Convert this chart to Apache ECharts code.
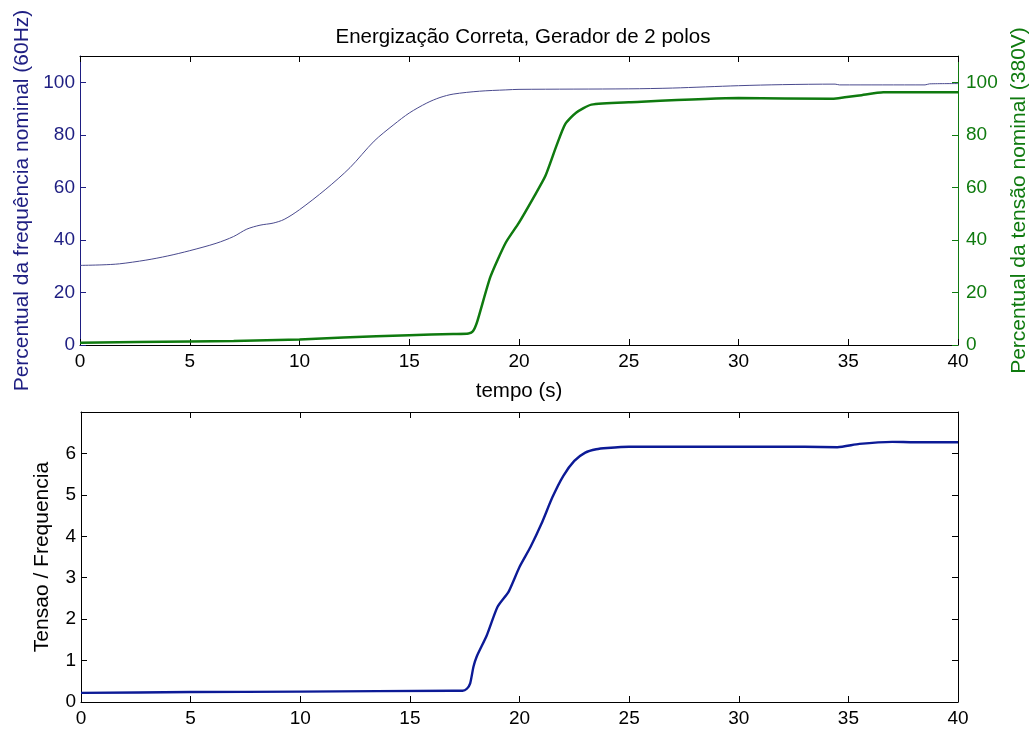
<!DOCTYPE html>
<html>
<head>
<meta charset="utf-8">
<script src="https://cdn.jsdelivr.net/npm/echarts@6/dist/echarts.min.js"></script>
<style>
  html, body { margin: 0; padding: 0; background: #fff; }
  #chart { width: 1030px; height: 729px; }
</style>
</head>
<body>
<div id="chart"></div>
<script>
// frequencia (% de 60Hz)
var freqT = [0, 1, 1.8, 3, 4, 5, 6.2, 7, 7.6, 8.2, 8.8, 9.3, 10, 11.2, 12.3, 13.4, 14.3, 15, 15.8, 16.4, 17, 18.2, 19.4, 20, 25, 27, 30, 32, 34.4, 34.6, 38.5, 38.7, 40];
var freqV = [30.3, 30.5, 30.9, 32.3, 33.9, 35.9, 38.7, 41.3, 44.1, 45.6, 46.4, 47.8, 51.5, 59.3, 67.5, 77.6, 83.9, 88.3, 92.1, 94.2, 95.5, 96.6, 97.1, 97.3, 97.5, 97.8, 98.7, 99.1, 99.3, 99.0, 99.0, 99.4, 99.5];

// tensao (% de 380V)
var tensT = [0, 5, 7, 10, 12, 15, 17, 17.7, 17.9, 18.1, 18.7, 19.4, 20, 20.7, 21.2, 21.7, 22.1, 22.6, 23.3, 25, 30, 34.2, 35.5, 36.6, 40];
var tensV = [0.9, 1.3, 1.5, 2.1, 2.9, 3.7, 4.2, 4.4, 5.2, 9, 26, 39, 46.6, 56.7, 64.3, 75.7, 84, 88.4, 91.5, 92.4, 94, 93.7, 95, 96.2, 96.2];

// razao tensao / frequencia
var ratioT = [0, 5, 10, 17, 17.4, 17.6, 17.75, 17.9, 18.05, 18.5, 19, 19.5, 20, 20.5, 21, 21.5, 22, 22.5, 23, 23.5, 24, 25, 30, 33, 34.5, 35.5, 37, 38, 40];
var ratioV = [0.22, 0.24, 0.25, 0.27, 0.27, 0.32, 0.45, 0.85, 1.1, 1.6, 2.3, 2.66, 3.26, 3.74, 4.3, 4.94, 5.46, 5.82, 6.02, 6.1, 6.13, 6.16, 6.16, 6.16, 6.15, 6.23, 6.28, 6.27, 6.27];

function pairs(t, v) {
    return t.map(function (x, i) { return [x, v[i]] })
}

var navy = '#1e1e82';
var green = '#0f7a0f';
var font = 'Liberation Sans, Arial, sans-serif';

function xAx(grid, pos, labels, name) {
    return {
        type: 'value', gridIndex: grid, position: pos, min: 0, max: 40, interval: 5,
        name: name || '', nameLocation: 'middle', nameGap: 36,
        nameTextStyle: { color: '#000', fontSize: 20.5, fontFamily: font },
        axisLine: { show: true, onZero: false, lineStyle: { color: '#000', width: 1 } },
        axisTick: { show: true, inside: true, length: 6, lineStyle: { color: '#000' } },
        axisLabel: { show: labels, color: '#000', fontSize: 19, fontFamily: font, margin: 7 },
        splitLine: { show: false }
    }
}

function yAx(grid, pos, max, interval, color, labels, name, gap) {
    return {
        type: 'value', gridIndex: grid, position: pos, min: 0, max: max, interval: interval,
        name: name || '', nameLocation: 'middle', nameGap: gap || 40,
        nameTextStyle: { color: color, fontSize: 21, fontFamily: font },
        axisLine: { show: true, onZero: false, lineStyle: { color: color, width: 1 } },
        axisTick: { show: true, inside: true, length: 6, lineStyle: { color: color } },
        axisLabel: {
            show: labels, color: color, fontSize: 19, fontFamily: font,
            margin: pos == 'left' ? 5 : 8,
            showMaxLabel: false
        },
        splitLine: { show: false }
    }
}

var chart = echarts.init(document.getElementById('chart'));
var option = {
    animation: false,
    backgroundColor: '#fff',
    title: {
        text: 'Energização Correta, Gerador de 2 polos',
        left: 518, top: 22, textAlign: 'center',
        textStyle: { fontSize: 20.5, fontWeight: 'normal', color: '#000', fontFamily: font }
    },
    grid: [
        { left: 80, right: 72, top: 56, height: 289, outerBoundsMode: 'none' },
        { left: 81, right: 72, top: 412, height: 290, outerBoundsMode: 'none' }
    ],
    xAxis: [
        xAx(0, 'bottom', true, 'tempo (s)'),
        xAx(0, 'top', false),
        xAx(1, 'bottom', true),
        xAx(1, 'top', false)
    ],
    yAxis: [
        yAx(0, 'left', 110, 20, navy, true, 'Percentual da frequência nominal (60Hz)', 47),
        yAx(0, 'right', 110, 20, green, true, 'Percentual da tensão nominal (380V)', 50),
        yAx(1, 'left', 7, 1, '#000', true, 'Tensao / Frequencia', 28),
        yAx(1, 'right', 7, 1, '#000', false)
    ],
    series: [
        {
            type: 'line', xAxisIndex: 0, yAxisIndex: 0, data: pairs(freqT, freqV),
            showSymbol: false, smooth: 0.3,
            lineStyle: { color: '#4a4a8e', width: 1 }
        },
        {
            type: 'line', xAxisIndex: 0, yAxisIndex: 1, data: pairs(tensT, tensV),
            showSymbol: false, smooth: 0.2,
            lineStyle: { color: green, width: 2.5 }
        },
        {
            type: 'line', xAxisIndex: 2, yAxisIndex: 2, data: pairs(ratioT, ratioV),
            showSymbol: false, smooth: 0.2,
            lineStyle: { color: '#0c1a96', width: 2.4 }
        }
    ]
};
chart.setOption(option);
</script>
</body>
</html>
